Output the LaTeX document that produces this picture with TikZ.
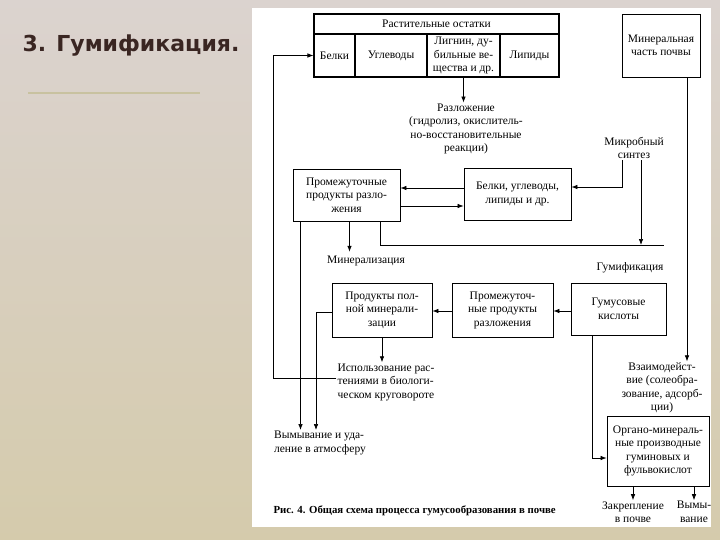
\documentclass[tikz,border=0pt]{standalone}
\usepackage{fontspec}
\setmainfont{Liberation Serif}
\newfontfamily\titlefont{DejaVu Sans}
\usetikzlibrary{arrows.meta}
\definecolor{slidebg}{RGB}{219,211,207}
\definecolor{slideband}{RGB}{213,203,172}
\definecolor{titlebrown}{RGB}{58,38,34}
\definecolor{ruleolive}{RGB}{200,194,160}
\newcommand{\diagfont}{\fontsize{11.5}{13.5}\selectfont}

\begin{document}
\begin{tikzpicture}[x=1pt,y=-1pt,
	box/.style={draw, line width=0.8pt, align=center, inner sep=1pt, font=\diagfont},
	cell/.style={box, line width=1.1pt, minimum height=43},
	lbl/.style={align=center, inner sep=1pt, font=\diagfont},
	arr/.style={line width=0.7pt, -{Latex[length=6pt,width=4.5pt]}},
	wire/.style={line width=0.7pt}]
	\useasboundingbox (0,0) rectangle (720,540);
	
	% Draw the slide and the white sheet
	\shade[top color=slidebg, middle color=slidebg!80!slideband, bottom color=slideband] (0,0) rectangle (720,540);
	\fill[white] (252,8) rectangle (711,527);
	
	% Draw the slide title
	\node[font=\titlefont\bfseries\fontsize{22}{26}\selectfont, text=titlebrown, anchor=west] (title) at (19,46) {3. Гумификация.};
	\draw[ruleolive, line width=2pt] (28,93) -- (200,93);
	
	% Draw the plant residues table
	\node[box, line width=1.1pt, minimum width=245, minimum height=20] (resid) at (436.5,24) {Растительные остатки};
	\foreach \nm/\cx/\cw/\txt in {belki/334.5/41/{Белки}, uglev/391/72/{Углеводы},
		lignin/463.5/73/{Лигнин, ду-\\бильные ве-\\щества и др.}, lipid/529.5/59/{Липиды}} {
		\node[cell, minimum width=\cw] (\nm) at (\cx,55.5) {\txt};
	}
	
	% Draw the mineral part box
	\node[box, minimum width=78, minimum height=63] (mineral) at (661,45.5) {Минеральная\\часть почвы};
	
	% Draw the decomposition step
	\node[lbl] (razl) at (466,129) {Разложение\\(гидролиз, окислитель-\\но-восстановительные\\реакции)};
	\draw[arr] (lignin.south) -- (lignin.south |- razl.north);
	
	% Draw the first row of boxes
	\node[box, minimum width=107, minimum height=52] (prodA) at (346.5,195) {Промежуточные\\продукты разло-\\жения};
	\node[box, minimum width=107, minimum height=52] (belkiB) at (517.5,194) {Белки, углеводы,\\липиды и др.};
	\draw[arr] ([yshift=6pt]belkiB.west) -- ([yshift=6pt]belkiB.west -| prodA.east);
	\draw[arr] ([yshift=-11pt]prodA.east) -- ([yshift=-11pt]prodA.east -| belkiB.west);
	
	% Draw the microbial synthesis
	\node[lbl] (micro) at (634,148) {Микробный\\синтез};
	\draw[arr] ([xshift=-12pt]micro.south) |- ([yshift=7pt]belkiB.east);
	
	% Draw the humification line
	\coordinate (humL) at (380,245);
	\coordinate (humR) at (664,245);
	\draw[wire] (prodA.south -| humL) -- (humL) -- (humR);
	\draw[arr] ([xshift=7pt]micro.south) -- ([xshift=7pt]micro.south |- humL);
	\node[lbl] (humif) at (630,268) {Гумификация};
	
	% Draw the mineralization arrow
	\node[lbl] (mineraliz) at (366,261) {Минерализация};
	\draw[arr, shorten >=3pt] ([xshift=3pt]prodA.south) -- ([xshift=3pt]prodA.south |- mineraliz.north);
	
	% Draw the second row of boxes
	\node[box, minimum width=100, minimum height=54] (prodFull) at (382,310) {Продукты пол-\\ной минерали-\\зации};
	\node[box, minimum width=101, minimum height=54] (prodB) at (502.5,310) {Промежуточ-\\ные продукты\\разложения};
	\node[box, minimum width=95, minimum height=52] (humic) at (618.5,309) {Гумусовые\\кислоты};
	\draw[arr] ([yshift=-2pt]humic.west) -- ([yshift=-2pt]humic.west -| prodB.east);
	\draw[arr] ([yshift=-1pt]prodB.west) -- ([yshift=-1pt]prodB.west -| prodFull.east);
	
	% Draw the use by plants
	\node[lbl, align=left] (use) at (386,382) {Использование рас-\\тениями в биологи-\\ческом круговороте};
	\draw[arr] (prodFull.south) -- (prodFull.south |- use.north);
	\coordinate (leftCol) at (273,378);
	\draw[arr] ([yshift=4pt]use.west) -- ([yshift=4pt]use.west -| leftCol) |- (belki.west);
	
	% Draw the leaching
	\node[lbl, align=left] (wash) at (320,443) {Вымывание и уда-\\ление в атмосферу};
	\draw[arr] ([xshift=-46pt]prodA.south) -- ([xshift=-46pt]prodA.south |- wash.north);
	\draw[arr] ([yshift=-2pt]prodFull.west) -| ([xshift=-4pt]wash.north);
	
	% Draw the interaction with the mineral part
	\node[lbl] (interact) at (662,388) {Взаимодейст-\\вие (солеобра-\\зование, адсорб-\\ции)};
	\draw[arr] ([xshift=26pt]mineral.south) -- ([xshift=26pt]mineral.south |- interact.north);
	
	% Draw the organo-mineral box
	\node[box, minimum width=102, minimum height=70] (organo) at (658,451) {Органо-минераль-\\ные производные\\гуминовых и\\фульвокислот};
	\draw[arr] ([xshift=-26pt]humic.south) |- ([yshift=-7pt]organo.west);
	
	% Draw the final results
	\node[lbl] (fix) at (633,512) {Закрепление\\в почве};
	\node[lbl] (leach) at (694,512) {Вымы-\\вание};
	\draw[arr] (organo.south -| fix.north) -- (fix.north);
	\draw[arr] (organo.south -| leach.north) -- (leach.north);
	
	% Draw the caption
	\node[font=\bfseries\fontsize{10.8}{12}\selectfont, anchor=west] (caption) at (270,511) {Рис. 4. Общая схема процесса гумусообразования в почве};
	
\end{tikzpicture}
\end{document}
